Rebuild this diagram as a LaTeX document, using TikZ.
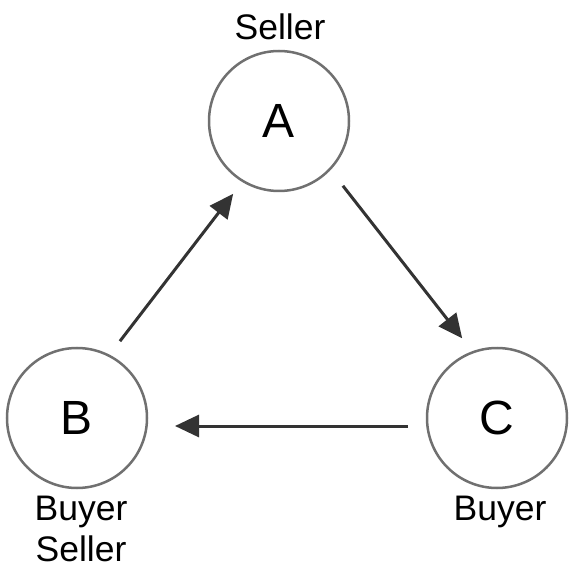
\documentclass[tikz,border=0pt]{standalone}
\usepackage{fontspec}
\setmainfont{Liberation Sans}
\usetikzlibrary{arrows.meta,calc}
\definecolor{ringgray}{HTML}{707070}
\definecolor{arrowgray}{HTML}{333333}
\begin{document}
\begin{tikzpicture}[x=1pt,y=1pt,
  party/.style={circle,draw=ringgray,line width=2.5pt,minimum size=140pt,inner sep=0pt,outer sep=0pt,font=\fontsize{48}{50}\selectfont},
  role/.style={anchor=base,font=\fontsize{35.5}{41}\selectfont,align=center,inner sep=0pt},
  flow/.style={draw=arrowgray,line width=3pt,-{Triangle[length=24pt,width=22pt]}}]
\useasboundingbox (0,0) rectangle (576,-572);
\node[party] (A) at (279,-121) {A};
\node[party] (B) at (77,-418) {B};
\node[party] (C) at (497,-418) {C};
\node[role] (lA) at (280,-40) {Seller};
\node[role] (lB1) at (81,-520) {Buyer};
\node[role] (lB2) at (81,-561) {Seller};
\node[role] (lC) at (500,-520) {Buyer};
\coordinate (ba0) at ($(B.center)+(60.8:88)$);
\coordinate (ba1) at ($(A.center)+(237.8:86)$);
\coordinate (ac0) at ($(A.center)+(-45.4:91)$);
\coordinate (ac1) at ($(C.center)+(113.6:87)$);
\coordinate (cb0) at ($(C.center)+(-89,-8)$);
\coordinate (cb1) at ($(B.center)+(98,-8)$);
\draw[flow] (ba0) -- (ba1);
\draw[flow] (ac0) -- (ac1);
\draw[flow] (cb0) -- (cb1);
\end{tikzpicture}
\end{document}
